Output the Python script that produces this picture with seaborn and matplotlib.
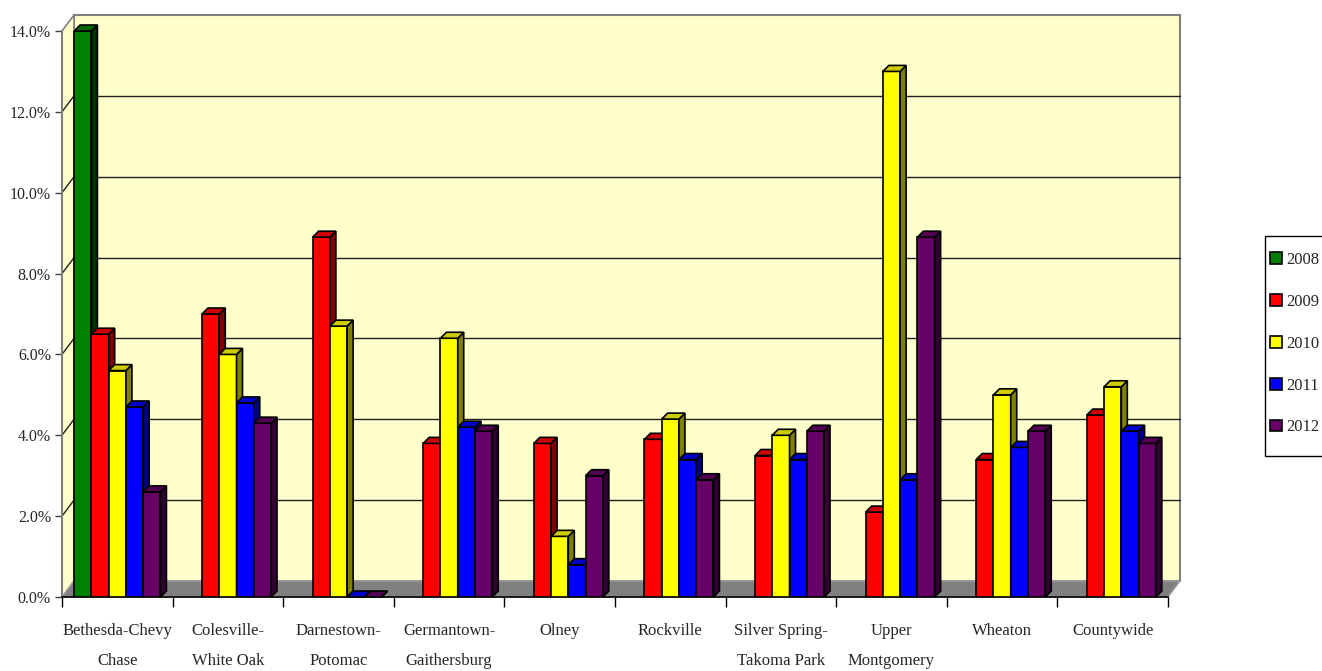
import numpy as np
import pandas as pd
import matplotlib
matplotlib.use("Agg")
import matplotlib.pyplot as plt
import seaborn as sns
from matplotlib.patches import Polygon, Patch, Rectangle
from matplotlib.ticker import PercentFormatter

# --- data (percent) ---
areas = ["Bethesda-Chevy\nChase", "Colesville-\nWhite Oak", "Darnestown-\nPotomac",
         "Germantown-\nGaithersburg", "Olney", "Rockville", "Silver Spring-\nTakoma Park",
         "Upper\nMontgomery", "Wheaton", "Countywide"]
years = ["2008", "2009", "2010", "2011", "2012"]
rate_2008 = [14.0, None, None, None, None, None, None, None, None, None]
rate_2009 = [6.5, 7.0, 8.9, 3.8, 3.8, 3.9, 3.5, 2.1, 3.4, 4.5]
rate_2010 = [5.6, 6.0, 6.7, 6.4, 1.5, 4.4, 4.0, 13.0, 5.0, 5.2]
rate_2011 = [4.7, 4.8, 0.0, 4.2, 0.8, 3.4, 3.4, 2.9, 3.7, 4.1]
rate_2012 = [2.6, 4.3, 0.0, 4.1, 3.0, 2.9, 4.1, 8.9, 4.1, 3.8]

front_colors = {"2008": "#008000", "2009": "#FF0000", "2010": "#FFFF00",
                "2011": "#0000FF", "2012": "#660066"}
side_colors = {"2008": "#003300", "2009": "#800000", "2010": "#808000",
               "2011": "#000080", "2012": "#330033"}
top_colors = {"2008": "#006600", "2009": "#CC0000", "2010": "#CCCC00",
              "2011": "#0000CC", "2012": "#520052"}

rows = []
for year, vals in zip(years, [rate_2008, rate_2009, rate_2010, rate_2011, rate_2012]):
    for area, v in zip(areas, vals):
        if v is not None:
            rows.append({"area": area, "year": year, "rate": v})
df = pd.DataFrame(rows)

sns.set_style("ticks")
plt.rcParams["font.family"] = ["Liberation Serif", "DejaVu Serif"]

W, H = 1322, 671
fig = plt.figure(figsize=(W / 100, H / 100), dpi=100)
ax = fig.add_axes([62 / W, 74 / H, 1106 / W, 566 / H])

sns.barplot(data=df, x="area", y="rate", hue="year", order=areas, hue_order=years,
            palette=front_colors, saturation=1, width=0.78, edgecolor="black",
            linewidth=1.2, legend=False, ax=ax)

ax.set_xlim(-0.5, len(areas) - 0.5)
ax.set_ylim(0, 14)
ax.patch.set_visible(False)
ax.set_xlabel("")
ax.set_ylabel("")

# pixel -> axes / data conversions
pos = ax.get_position()
ax_w_px = pos.width * W
ax_h_px = pos.height * H
fx, fy = 12 / ax_w_px, 16 / ax_h_px          # back wall offset (axes fraction)
ux = len(areas) / ax_w_px                    # data units per px (x)
uy = 14 / ax_h_px                            # data units per px (y)
ddx, ddy = 6 * ux, 6 * uy                    # bar depth

# walls and floor
ax.add_patch(Rectangle((fx, fy), 1, 1, transform=ax.transAxes, facecolor="#FFFFCC",
                       edgecolor="#808080", lw=1.5, zorder=0, clip_on=False))
ax.add_patch(Polygon([(0, 0), (fx, fy), (fx, 1 + fy), (0, 1)], closed=True,
                     transform=ax.transAxes, facecolor="#FFFFCC", edgecolor="#808080",
                     lw=1.2, zorder=0.5, clip_on=False))
yt = np.arange(0, 15, 2)
for t in yt[1:-1]:
    f = t / 14
    ax.plot([fx, 1 + fx], [f + fy, f + fy], transform=ax.transAxes, color="#202020",
            lw=1, zorder=0.8, clip_on=False)
    ax.plot([0, fx], [f, f + fy], transform=ax.transAxes, color="#202020",
            lw=1, zorder=0.8, clip_on=False)
ax.add_patch(Polygon([(0, 0), (1, 0), (1 + fx, fy), (fx, fy)], closed=True,
                     transform=ax.transAxes, facecolor="#808080", edgecolor="#A0A0A0",
                     lw=1, zorder=1, clip_on=False))

# 3D look for each bar
for k, (year, cont) in enumerate(zip(years, ax.containers)):
    z = 3 + k * 0.1
    for bar in cont:
        h = bar.get_height()
        if np.isnan(h):
            continue
        x0, w = bar.get_x(), bar.get_width()
        bar.set_zorder(z)
        side = Polygon([(x0 + w, 0), (x0 + w + ddx, ddy), (x0 + w + ddx, h + ddy), (x0 + w, h)],
                       closed=True, facecolor=side_colors[year], edgecolor="black",
                       lw=1.2, zorder=z + 0.01, clip_on=False)
        top = Polygon([(x0, h), (x0 + ddx, h + ddy), (x0 + w + ddx, h + ddy), (x0 + w, h)],
                      closed=True, facecolor=top_colors[year], edgecolor="black",
                      lw=1.2, zorder=z + 0.01, clip_on=False)
        ax.add_patch(side)
        ax.add_patch(top)

# axes, ticks
ax.set_yticks(yt)
ax.yaxis.set_major_formatter(PercentFormatter(xmax=100, decimals=1))
ax.tick_params(axis="y", length=5, width=1, pad=3, labelsize=11.5, color="#404040")

ax.set_xticks(np.arange(-0.5, len(areas), 1))
ax.set_xticklabels([])
ax.set_xticks(np.arange(len(areas)), minor=True)
ax.set_xticklabels(areas, minor=True)
ax.tick_params(axis="x", which="major", length=7, width=1, color="black")
ax.tick_params(axis="x", which="minor", length=0, pad=18.5, labelsize=12)
for lbl in ax.get_xticklabels(minor=True):
    lbl.set_linespacing(2.2)

for s in ["top", "right"]:
    ax.spines[s].set_visible(False)
ax.spines["left"].set_color("#808080")
ax.spines["left"].set_linewidth(1.5)
ax.spines["bottom"].set_color("black")
ax.spines["bottom"].set_linewidth(1.2)

# legend
fig.patches.append(Rectangle((1265 / W, 1 - 456 / H), 0.2, 220 / H, transform=fig.transFigure,
                             facecolor="white", edgecolor="black", lw=1, zorder=0))
handles = [Patch(facecolor=front_colors[y], edgecolor="black", lw=1.2, label=y) for y in years]
fig.legend(handles=handles, loc="upper left", bbox_to_anchor=(1270 / W, 1 - 252 / H),
           frameon=False, fontsize=12, handlelength=0.7, handleheight=0.7,
           handletextpad=0.3, labelspacing=1.55, borderpad=0, borderaxespad=0)

fig.savefig("out.png", dpi=100)
